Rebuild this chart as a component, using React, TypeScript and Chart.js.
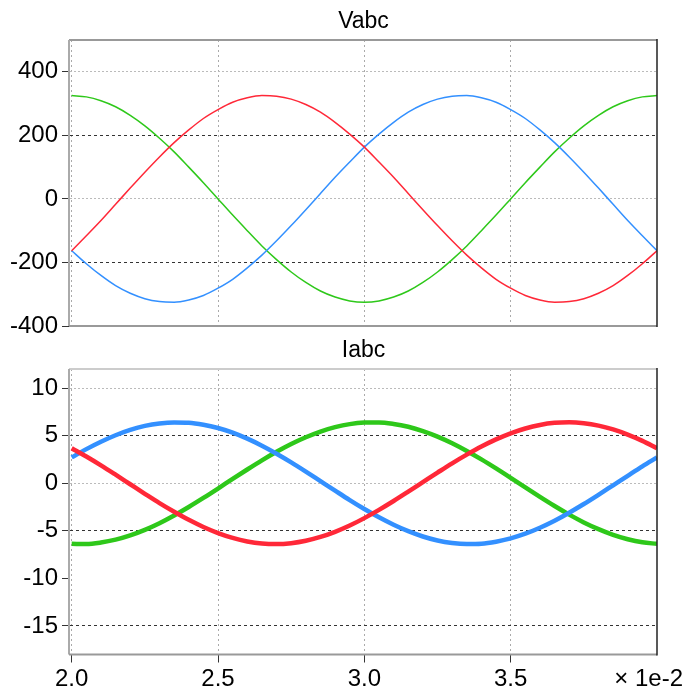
import React, { useEffect, useRef } from "react";
import { Chart, registerables } from "chart.js";

Chart.register(...registerables);

// time in seconds
const time = [
  0.02, 0.0205, 0.021, 0.0215, 0.022, 0.0225, 0.023, 0.0235, 0.024, 0.0245,
  0.025, 0.0255, 0.026, 0.0265, 0.027, 0.0275, 0.028, 0.0285, 0.029, 0.0295,
  0.03, 0.0305, 0.031, 0.0315, 0.032, 0.0325, 0.033, 0.0335, 0.034, 0.0345,
  0.035, 0.0355, 0.036, 0.0365, 0.037, 0.0375, 0.038, 0.0385, 0.039, 0.0395, 0.04,
];

// Vabc (V)
const vRed = [
  -163, -116, -68, -17, 34, 84, 132, 177, 217, 253, 281, 304, 318, 325, 323, 314, 297, 273, 241, 204,
  163, 116, 68, 17, -34, -84, -132, -177, -217, -253, -281, -304, -318, -325, -323, -314, -297, -273, -241, -204, -163,
];
const vBlue = [
  -163, -204, -241, -273, -297, -314, -323, -325, -318, -304, -281, -253, -217, -177, -132, -84, -34, 17, 68, 116,
  163, 204, 241, 273, 297, 314, 323, 325, 318, 304, 281, 253, 217, 177, 132, 84, 34, -17, -68, -116, -163,
];
const vGreen = [
  325, 321, 309, 290, 263, 230, 191, 148, 100, 51, 0, -51, -100, -148, -191, -230, -263, -290, -309, -321,
  -325, -321, -309, -290, -263, -230, -191, -148, -100, -51, 0, 51, 100, 148, 191, 230, 263, 290, 309, 321, 325,
];

// Iabc (A)
const iRed = [
  3.67, 2.8, 1.87, 0.89, -0.11, -1.11, -2.09, -3.0, -3.85, -4.6, -5.24, -5.75, -6.12, -6.34, -6.4, -6.3, -6.05, -5.65, -5.11, -4.45,
  -3.67, -2.8, -1.87, -0.89, 0.11, 1.11, 2.09, 3.0, 3.85, 4.6, 5.24, 5.75, 6.12, 6.34, 6.4, 6.3, 6.05, 5.65, 5.11, 4.45, 3.67,
];
const iBlue = [
  2.71, 3.58, 4.36, 5.04, 5.6, 6.02, 6.28, 6.39, 6.36, 6.15, 5.8, 5.31, 4.68, 3.94, 3.1, 2.19, 1.22, 0.22, -0.78, -1.77,
  -2.71, -3.58, -4.36, -5.04, -5.6, -6.02, -6.28, -6.39, -6.36, -6.15, -5.8, -5.31, -4.68, -3.94, -3.1, -2.19, -1.22, -0.22, 0.78, 1.77, 2.71,
];
const iGreen = [
  -6.37, -6.39, -6.23, -5.93, -5.48, -4.9, -4.2, -3.39, -2.5, -1.55, -0.56, 0.45, 1.44, 2.4, 3.3, 4.12, 4.83, 5.43, 5.89, 6.21,
  6.37, 6.39, 6.23, 5.93, 5.48, 4.9, 4.2, 3.39, 2.5, 1.55, 0.56, -0.45, -1.44, -2.4, -3.3, -4.12, -4.83, -5.43, -5.89, -6.21, -6.37,
];

const xTicks = [0.02, 0.025, 0.03, 0.035];
const xTickLabels = ["2.0", "2.5", "3.0", "3.5"];
const xExponentLabel = "× 1e-2";
const xMin = 0.019942;
const xMax = 0.04;

const vTicks = [-400, -200, 0, 200, 400];
const vMin = -400;
const vMax = 500;
const vDarkGrid = [200, -200];
const vLightGrid = [400, 0];

const iTicks = [-15, -10, -5, 0, 5, 10];
const iMin = -18;
const iMax = 12;
const iDarkGrid = [5, -5, -15];
const iLightGrid = [10, 0];

const titleTop = "Vabc";
const titleBottom = "Iabc";

const RED = "#ff2838";
const GREEN = "#2ec81a";
const BLUE = "#3390ff";
const FONT = '"Liberation Sans", "DejaVu Sans", sans-serif';
const FS = 24;
const FS_TITLE = 23;

function framePlugin(topColor: string) {
  return {
    id: "frame",
    afterDraw(chart: any) {
      const { ctx, chartArea: a } = chart;
      ctx.save();
      ctx.setLineDash([]);
      ctx.lineWidth = 2;
      ctx.strokeStyle = topColor;
      ctx.beginPath();
      ctx.moveTo(a.left - 1, a.top);
      ctx.lineTo(a.right, a.top);
      ctx.stroke();
      ctx.strokeStyle = "#aaa";
      ctx.beginPath();
      ctx.moveTo(a.left - 1, a.top);
      ctx.lineTo(a.left - 1, a.bottom);
      ctx.stroke();
      ctx.strokeStyle = "#999";
      ctx.beginPath();
      ctx.moveTo(a.left - 1, a.bottom);
      ctx.lineTo(a.right, a.bottom);
      ctx.stroke();
      ctx.lineWidth = 1.5;
      ctx.strokeStyle = "#222";
      ctx.beginPath();
      ctx.moveTo(a.right, a.top - 1);
      ctx.lineTo(a.right, a.bottom + 1);
      ctx.stroke();
      ctx.restore();
    },
  };
}

const exponentPlugin = {
  id: "exponent",
  afterDraw(chart: any) {
    const { ctx, chartArea: a } = chart;
    ctx.save();
    ctx.font = `${FS}px ${FONT}`;
    ctx.fillStyle = "#000";
    ctx.textAlign = "right";
    ctx.textBaseline = "middle";
    ctx.fillText(xExponentLabel, 683, a.bottom + 25);
    ctx.restore();
  },
};

function yGrid(dark: number[], light: number[]) {
  return {
    grid: {
      color: (c: any) => {
        const v = c.tick ? c.tick.value : null;
        if (dark.includes(v)) return "#333";
        if (light.includes(v)) return "#bbb";
        return "rgba(0,0,0,0)";
      },
      lineWidth: 1,
      tickLength: 8,
      tickColor: "#333",
    },
    border: {
      display: false,
      dash: (c: any) => {
        const v = c.tick ? c.tick.value : null;
        return dark.includes(v) ? [3, 3] : [2, 2];
      },
    },
  };
}

function xScale(showLabels: boolean) {
  return {
    type: "linear" as const,
    min: xMin,
    max: xMax,
    afterBuildTicks: (scale: any) => {
      scale.ticks = xTicks.map((v) => ({ value: v }));
    },
    afterFit: (scale: any) => {
      scale.height = showLabels ? 38 : 0;
    },
    ticks: {
      display: showLabels,
      autoSkip: false,
      maxRotation: 0,
      padding: 2,
      color: "#000",
      font: { size: FS, family: FONT },
      callback: (v: any) => {
        const idx = xTicks.findIndex((t) => Math.abs(t - v) < 1e-9);
        return idx >= 0 ? xTickLabels[idx] : "";
      },
    },
    grid: {
      color: "#aaa",
      lineWidth: 1,
      drawTicks: showLabels,
      tickLength: 8,
      tickColor: "#333",
    },
    border: { display: false, dash: [2, 3] },
  };
}

function yScale(min: number, max: number, ticks: number[], dark: number[], light: number[]) {
  const g = yGrid(dark, light);
  return {
    type: "linear" as const,
    min,
    max,
    afterBuildTicks: (scale: any) => {
      scale.ticks = ticks.map((v) => ({ value: v }));
    },
    afterFit: (scale: any) => {
      scale.width = 70;
    },
    ticks: {
      autoSkip: false,
      padding: 4,
      color: "#000",
      font: { size: FS, family: FONT },
      callback: (v: any) => String(v),
    },
    grid: g.grid,
    border: g.border,
  };
}

function makeDataset(label: string, data: number[], color: string, width: number) {
  return {
    label,
    data: time.map((t, i) => ({ x: t, y: data[i] })),
    borderColor: color,
    backgroundColor: color,
    borderWidth: width,
    pointRadius: 0,
    cubicInterpolationMode: "monotone" as const,
    fill: false,
  };
}

export default function App() {
  const topRef = useRef<HTMLCanvasElement>(null);
  const botRef = useRef<HTMLCanvasElement>(null);

  useEffect(() => {
    const top = new Chart(topRef.current!, {
      type: "line",
      data: {
        datasets: [
          makeDataset("Va", vRed, RED, 1.5),
          makeDataset("Vb", vBlue, BLUE, 1.5),
          makeDataset("Vc", vGreen, GREEN, 1.5),
        ],
      },
      options: {
        responsive: false,
        animation: false,
        devicePixelRatio: 1,
        layout: { padding: { left: 0, right: 30, top: 0, bottom: 19 } },
        plugins: {
          legend: { display: false },
          tooltip: { enabled: false },
          title: {
            display: true,
            text: titleTop,
            fullSize: false,
            color: "#000",
            font: { size: FS_TITLE, family: FONT, weight: "normal", lineHeight: 1.2 },
            padding: { top: 7.5, bottom: 4.9 },
          },
        },
        scales: {
          x: xScale(false) as any,
          y: yScale(vMin, vMax, vTicks, vDarkGrid, vLightGrid) as any,
        },
      },
      plugins: [framePlugin("#999")],
    });

    const bot = new Chart(botRef.current!, {
      type: "line",
      data: {
        datasets: [
          makeDataset("Ia", iRed, RED, 4.5),
          makeDataset("Ib", iBlue, BLUE, 4.5),
          makeDataset("Ic", iGreen, GREEN, 4.5),
        ],
      },
      options: {
        responsive: false,
        animation: false,
        devicePixelRatio: 1,
        layout: { padding: { left: 0, right: 30, top: 0, bottom: 0.5 } },
        plugins: {
          legend: { display: false },
          tooltip: { enabled: false },
          title: {
            display: true,
            text: titleBottom,
            fullSize: false,
            color: "#000",
            font: { size: FS_TITLE, family: FONT, weight: "normal", lineHeight: 1.2 },
            padding: { top: 6.5, bottom: 4.9 },
          },
        },
        scales: {
          x: xScale(true) as any,
          y: yScale(iMin, iMax, iTicks, iDarkGrid, iLightGrid) as any,
        },
      },
      plugins: [framePlugin("#ccc"), exponentPlugin],
    });

    return () => {
      top.destroy();
      bot.destroy();
    };
  }, []);

  return (
    <div style={{ position: "absolute", left: 0, top: 0, width: 687, height: 693, background: "#fff" }}>
      <canvas ref={topRef} width={687} height={345} style={{ position: "absolute", left: 0, top: 0 }} />
      <canvas ref={botRef} width={687} height={363} style={{ position: "absolute", left: 0, top: 330 }} />
    </div>
  );
}
